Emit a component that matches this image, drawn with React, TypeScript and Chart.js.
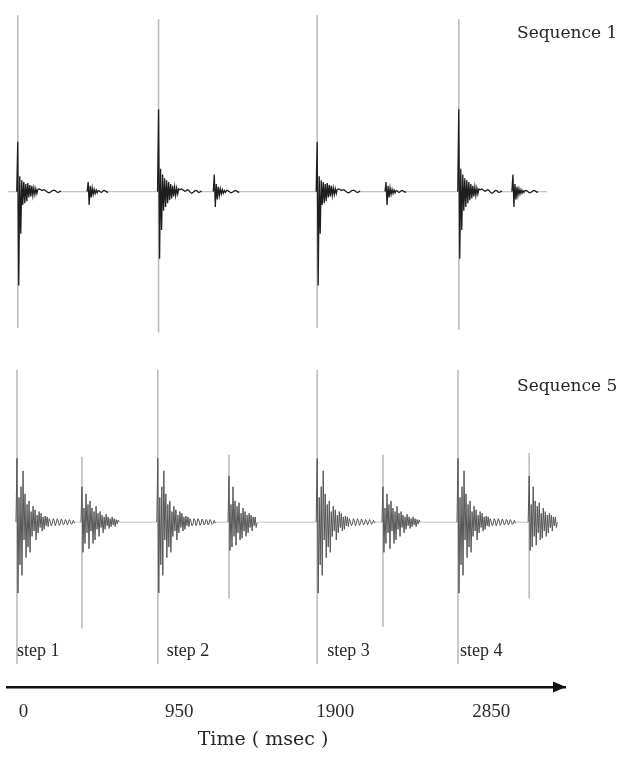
import { useEffect, useRef } from 'react';
import { Chart, registerables } from 'chart.js';

Chart.register(...registerables);

// ---------- data ----------
const sampleMs = 6.5; // one waveform sample every 6.5 ms
const timeTicks = [0, 950, 1900, 2850];
const stepLabels = ['step 1', 'step 2', 'step 3', 'step 4'];
const panelTitles = ['Sequence 1', 'Sequence 5'];
const timeTitle = 'Time ( msec )';

// Sequence 1 (upper trace)
const seq1Start = -50;
const seq1End = 3430;
const seq1Onsets = [5, 915, 1940, 2855];
const seq1EchoOnsets = [460, 1275, 2385, 3205];
const seq1MarkerHigh = [0.92, 0.9, 0.92, 0.9];
const seq1MarkerLow = [-0.71, -0.735, -0.71, -0.72];
const seq1MainA = [0, 0.26, -0.49, 0.08, -0.22, 0.06, -0.07, 0.05, -0.06, 0.04, -0.05, 0.045, -0.03, 0.035, -0.025, 0.03, -0.02, 0.02, -0.015, 0.015, -0.01, 0.012, 0.014, 0.012, 0.01, 0.006, 0.008, 0.01, 0.008, 0.004, 0, -0.004, -0.006, -0.004, 0, 0.004, 0.006, 0.008, 0.006, 0.002, -0.002, -0.004, -0.002, 0.002, 0];
const seq1MainB = [0, 0.43, -0.35, 0.12, -0.2, 0.09, -0.1, 0.07, -0.08, 0.06, -0.06, 0.05, -0.045, 0.04, -0.035, 0.03, -0.025, 0.025, -0.02, 0.018, -0.012, 0.014, 0.01, 0.012, 0.014, 0.01, 0.006, 0.002, 0.004, 0.008, 0.01, 0.006, 0, -0.006, -0.008, -0.004, 0, 0.004, 0.006, 0.004, 0, -0.004, -0.002, 0.002, 0];
const seq1EchoA = [0, 0.05, -0.07, 0.03, -0.03, 0.02, -0.015, 0.012, -0.01, 0.008, -0.006, 0.005, 0.004, 0, -0.004, 0, 0.004, 0.006, 0.003, 0, -0.003, 0];
const seq1EchoB = [0, 0.09, -0.08, 0.04, -0.04, 0.025, -0.02, 0.015, -0.012, 0.01, -0.008, 0.006, -0.004, 0.004, 0.006, 0.004, 0, -0.004, -0.006, -0.003, 0, 0.004, 0.006, 0.004, 0, -0.003, 0];

// Sequence 5 (lower trace)
const seq5Start = 0;
const seq5End = 3500;
const seq5Onsets = [0, 910, 1940, 2850];
const seq5EchoOnsets = [420, 1370, 2365, 3310];
const seq5MarkerHigh = [0.86, 0.86, 0.86, 0.86];
const seq5MarkerLow = [-0.8, -0.8, -0.8, -0.8];
const seq5EchoMarkerHigh = [0.37, 0.38, 0.38, 0.39];
const seq5EchoMarkerLow = [-0.6, -0.43, -0.59, -0.43];
const seq5Main = [0, 0.36, -0.4, 0.14, -0.24, 0.2, -0.3, 0.29, -0.1, 0.16, -0.2, 0.1, -0.14, 0.12, -0.17, 0.06, -0.08, 0.09, -0.05, 0.07, -0.1, 0.04, -0.06, 0.06, -0.03, 0.05, -0.05, 0.03, -0.04, 0.035, -0.02, 0.03, -0.025, 0.02, 0.005, -0.02, -0.01, 0.02, 0.01, -0.02, -0.005, 0.02, 0.008, -0.018, -0.008, 0.018, 0.006, -0.015, -0.01, 0.015, 0.01, -0.015, -0.005, 0.015, 0.005, -0.012, -0.006, 0.01, -0.004, 0];
const seq5EchoA = [0, 0.2, -0.17, 0.08, -0.12, 0.16, -0.06, 0.1, -0.15, 0.12, -0.05, 0.08, -0.12, 0.06, -0.1, 0.09, -0.04, 0.05, -0.08, 0.06, -0.03, 0.04, -0.06, 0.03, -0.04, 0.045, -0.02, 0.03, -0.035, 0.02, -0.025, 0.03, -0.015, 0.02, -0.025, 0.015, -0.01, 0.012, 0];
const seq5EchoB = [0, 0.26, -0.16, 0.1, -0.14, 0.2, -0.08, 0.12, -0.13, 0.09, -0.06, 0.11, -0.1, 0.05, -0.09, 0.08, -0.05, 0.06, -0.08, 0.04, -0.06, 0.05, -0.03, 0.04, -0.05, 0.03, -0.02, 0.03, -0.03, 0];

const seq1MainByStep = [seq1MainA, seq1MainB, seq1MainA, seq1MainB];
const seq1EchoByStep = [seq1EchoA, seq1EchoB, seq1EchoA, seq1EchoB];
const seq5EchoByStep = [seq5EchoA, seq5EchoB, seq5EchoA, seq5EchoB];

// ---------- helpers ----------
type Pt = { x: number; y: number | null };

function buildTrace(start: number, end: number, events: { t: number; s: number[] }[]): Pt[] {
  const pts: Pt[] = [{ x: start, y: 0 }];
  [...events]
    .sort((a, b) => a.t - b.t)
    .forEach((ev) => ev.s.forEach((v, i) => pts.push({ x: ev.t + i * sampleMs, y: v })));
  pts.push({ x: end, y: 0 });
  return pts;
}

function buildMarkers(times: number[], highs: number[], lows: number[]): Pt[] {
  const pts: Pt[] = [];
  times.forEach((t, i) => {
    const x = t + sampleMs;
    pts.push({ x, y: highs[i] }, { x, y: lows[i] }, { x, y: null });
  });
  return pts;
}

const stepLabelNudge = [1, 10, 11, 3];

const annotate = {
  id: 'annotate',
  afterDraw(chart: any) {
    const { ctx, chartArea, scales } = chart;
    ctx.save();
    ctx.fillStyle = '#262626';
    ctx.textBaseline = 'alphabetic';
    ctx.textAlign = 'left';
    ctx.font = '17px "DejaVu Serif", serif';
    ctx.fillText(panelTitles[0], 517, 38);
    ctx.fillText(panelTitles[1], 517, 391);
    ctx.font = '18px "Liberation Serif", serif';
    stepLabels.forEach((s, i) => {
      ctx.fillText(s, scales.x.getPixelForValue(seq5Onsets[i]) + stepLabelNudge[i], 656);
    });
    ctx.font = '19px "DejaVu Serif", serif';
    ctx.textAlign = 'center';
    ctx.fillText(timeTitle, 263, 745);
    const y = scales.xTime.top;
    const r = chartArea.right;
    ctx.fillStyle = '#111';
    ctx.beginPath();
    ctx.moveTo(r + 1, y);
    ctx.lineTo(r - 12, y - 5.5);
    ctx.lineTo(r - 12, y + 5.5);
    ctx.closePath();
    ctx.fill();
    ctx.restore();
  },
};

export default function App() {
  const ref = useRef<HTMLCanvasElement | null>(null);

  useEffect(() => {
    if (!ref.current) return;
    const seq1Trace = buildTrace(seq1Start, seq1End, [
      ...seq1Onsets.map((t, i) => ({ t, s: seq1MainByStep[i] })),
      ...seq1EchoOnsets.map((t, i) => ({ t, s: seq1EchoByStep[i] })),
    ]);
    const seq5Trace = buildTrace(seq5Start, seq5End, [
      ...seq5Onsets.map((t) => ({ t, s: seq5Main })),
      ...seq5EchoOnsets.map((t, i) => ({ t, s: seq5EchoByStep[i] })),
    ]);
    const baselineColor = (ctx: any) =>
      Math.abs(ctx.p0.parsed.y) < 1e-3 && Math.abs(ctx.p1.parsed.y) < 1e-3 ? '#c4c4c4' : undefined;

    const chart = new Chart(ref.current, {
      type: 'line',
      data: {
        datasets: [
          {
            label: 'Sequence 1',
            data: seq1Trace as any,
            xAxisID: 'x',
            yAxisID: 'yTop',
            borderColor: '#1e1e1e',
            borderWidth: 1.3,
            pointRadius: 0,
            tension: 0,
            segment: { borderColor: baselineColor },
          },
          {
            label: 'Sequence 5',
            data: seq5Trace as any,
            xAxisID: 'x',
            yAxisID: 'yBot',
            borderColor: '#555555',
            borderWidth: 1,
            pointRadius: 0,
            tension: 0,
            segment: { borderColor: baselineColor },
          },
          {
            label: 'Sequence 1 peaks',
            data: buildMarkers(seq1Onsets, seq1MarkerHigh, seq1MarkerLow) as any,
            xAxisID: 'x',
            yAxisID: 'yTop',
            borderColor: '#bdbdbd',
            borderWidth: 1.6,
            pointRadius: 0,
            spanGaps: false,
          },
          {
            label: 'Sequence 5 peaks',
            data: [
              ...buildMarkers(seq5Onsets, seq5MarkerHigh, seq5MarkerLow),
              ...buildMarkers(seq5EchoOnsets, seq5EchoMarkerHigh, seq5EchoMarkerLow),
            ] as any,
            xAxisID: 'x',
            yAxisID: 'yBot',
            borderColor: '#bdbdbd',
            borderWidth: 1.6,
            pointRadius: 0,
            spanGaps: false,
          },
        ],
      },
      options: {
        animation: false,
        responsive: true,
        maintainAspectRatio: false,
        layout: { padding: { left: 7, right: 64, top: 0, bottom: 0 } },
        plugins: { legend: { display: false }, tooltip: { enabled: false } },
        events: [],
        scales: {
          x: { type: 'linear', display: false, min: -58, max: 3548 },
          xTime: {
            type: 'linear',
            position: 'bottom',
            min: -100,
            max: 3300,
            grid: { display: false, drawTicks: false },
            border: { display: true, color: '#111', width: 2.5 },
            afterBuildTicks: (s: any) => {
              s.ticks = timeTicks.map((v) => ({ value: v }));
            },
            afterFit: (s: any) => {
              s.height = 76;
            },
            ticks: {
              autoSkip: false,
              maxRotation: 0,
              padding: 14,
              color: '#2b2b2b',
              font: { family: '"Liberation Serif", serif', size: 19 },
              callback: (v: any) => String(v),
            },
          },
          yTop: {
            type: 'linear',
            display: false,
            position: 'left',
            stack: 'panels',
            stackWeight: 345,
            weight: 2,
            min: -0.8,
            max: 1.0,
          },
          yBot: {
            type: 'linear',
            display: false,
            position: 'left',
            stack: 'panels',
            stackWeight: 342,
            weight: 1,
            min: -0.93,
            max: 1.0,
          },
        },
      } as any,
      plugins: [annotate],
    });
    return () => chart.destroy();
  }, []);

  return (
    <div style={{ position: 'absolute', left: 0, top: 0, width: 629, height: 763, background: '#fff' }}>
      <canvas ref={ref} />
    </div>
  );
}
